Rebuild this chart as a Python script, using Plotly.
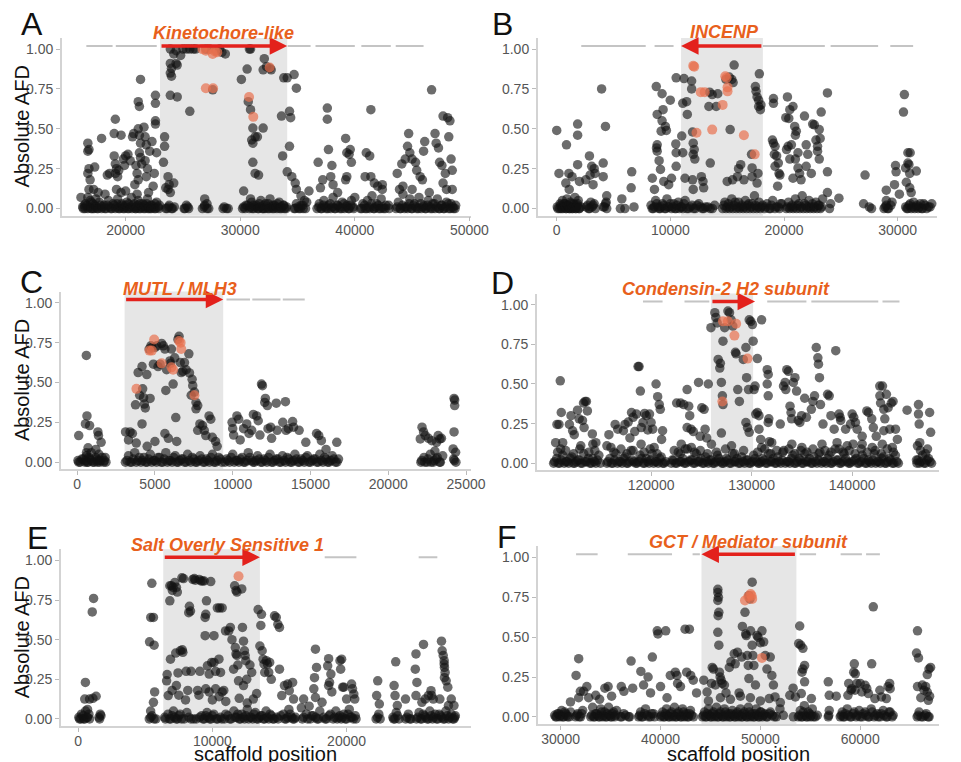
import plotly.graph_objects as go

# ---------------- data (scaffold position, absolute AFD) ----------------
A_black = [
 (16100,0.07),(16400,0.02),(16700,0.41),(16800,0.37),(16700,0.36),(16800,0.25),(16700,0.22),(16900,0.18),(16800,0.12),(16700,0.07),
 (17000,0.04),(17300,0.26),(17200,0.12),(17400,0.06),(17900,0.44),(18400,0.21),(18600,0.22),(19000,0.33),(19100,0.28),(19100,0.56),
 (19000,0.47),(19200,0.25),(19100,0.22),(19300,0.20),(19200,0.12),(19400,0.24),(19600,0.46),(19600,0.10),(19800,0.31),(19900,0.27),
 (20000,0.33),(20200,0.34),(20400,0.30),(20600,0.45),(20700,0.47),(20800,0.15),(20900,0.27),(21000,0.22),(21100,0.67),(21200,0.64),
 (21300,0.81),(21100,0.50),(21200,0.46),(21300,0.41),(21200,0.35),(21300,0.32),(21400,0.28),(21100,0.18),(21600,0.51),(21700,0.45),
 (21800,0.40),(21700,0.30),(21900,0.25),(21800,0.20),(22100,0.36),(22300,0.42),(22600,0.55),(22600,0.53),(22600,0.66),(22600,0.71),
 (22400,0.14),(22500,0.22),(22700,0.35),(23400,0.45),(23400,0.39),(23300,0.29),(23500,0.13),(23700,0.12),
 (23900,1.00),(24400,0.99),(24200,0.97),(23900,0.91),(24000,0.88),(23900,0.85),(24000,0.83),(24400,0.91),(24500,0.90),(23900,0.71),
 (24500,0.70),(23700,0.20),(23800,0.15),(23900,0.10),(24200,0.16),(25000,1.00),(25300,1.00),(25600,1.00),(25900,1.00),(26100,1.00),
 (24800,0.96),(25600,0.61),(27000,1.00),(27300,1.00),(27900,0.99),(28200,1.00),(28400,0.98),(28700,0.97),(27600,0.745),(26900,0.06),
 (27100,0.03),(30100,0.81),(30600,0.875),(30900,1.00),(30800,1.00),(30700,0.67),(30900,0.62),(31100,0.505),(31300,0.45),(31000,0.43),
 (31100,0.41),(31100,0.29),(31300,0.22),(31600,0.21),(31500,0.45),(30300,0.11),(30900,0.06),(32100,0.94),(32300,0.89),(32000,0.87),
 (32600,0.88),(32700,0.87),(32000,0.505),(33600,0.58),(33700,0.33),(33800,0.82),(34100,0.82),(34300,0.39),(34100,0.23),(34300,0.61),
 (34400,0.57),(34500,0.20),(34700,0.84),(34900,0.755),(34800,0.16),
 (34900,0.12),(35300,0.08),(35600,0.05),(36800,0.29),(37200,0.18),(37600,0.63),(37600,0.56),(37700,0.37),(38000,0.27),(38100,0.15),
 (37900,0.20),(39200,0.44),(39300,0.35),(39500,0.34),(39600,0.37),(39700,0.29),(39300,0.20),(39200,0.18),(41000,0.35),(41300,0.33),
 (41400,0.62),(41400,0.20),(40900,0.20),(41700,0.16),(42000,0.14),(42400,0.15),(43700,0.22),(44100,0.28),(44400,0.31),(44600,0.39),
 (44700,0.47),(44800,0.35),(45000,0.31),(45300,0.29),(45400,0.24),(45700,0.20),(46100,0.42),(46000,0.36),(45900,0.18),(46700,0.745),
 (47000,0.47),(47100,0.41),(47300,0.38),(47400,0.29),(47600,0.27),(47700,0.58),(48100,0.57),(48300,0.55),(48200,0.45),(48400,0.31),
 (47900,0.22),(47700,0.16),(48500,0.24),(48500,0.12),(43900,0.12),
 (17600,0.10),(18200,0.09),(20000,0.11),(21000,0.09),(22000,0.10),(36000,0.11),(37000,0.13),(38500,0.10),(40000,0.07),(42400,0.12),
 (44200,0.14),(45000,0.12),(46500,0.10),(48000,0.12),
 (16300,0.0),(16500,0.03),(16700,0.0),(16900,0.05),(17100,0.0),(17300,0.02),(17500,0.0),(17700,0.04),(17900,0.0),(18100,0.02),
 (18300,0.0),(18500,0.05),(18700,0.0),(18900,0.03),(19100,0.0),(19300,0.06),(19500,0.0),(19700,0.02),(19900,0.0),(20100,0.04),
 (20300,0.0),(20500,0.07),(20700,0.01),(20900,0.0),(21100,0.05),(21300,0.0),(21500,0.03),(21700,0.0),(21900,0.06),(22100,0.0),
 (22300,0.02),(22500,0.0),(22700,0.04),(22900,0.0),(23500,0.0),(23800,0.02),(24100,0.0),(25100,0.0),(25300,0.02),(25500,0.0),
 (26700,0.0),(26900,0.02),(27100,0.0),(28500,0.0),(28800,0.0),(30200,0.0),(30500,0.02),(30800,0.0),(31000,0.04),(31200,0.0),
 (31400,0.02),(31600,0.0),(31800,0.05),(32000,0.0),(32200,0.03),(32400,0.0),(32600,0.06),(32800,0.0),(33000,0.02),(33200,0.0),
 (33400,0.04),(33600,0.0),(33800,0.02),(34000,0.0),(34700,0.0),(34900,0.03),(35100,0.0),(35300,0.02),(35500,0.0),(35800,0.04),
 (36700,0.0),(36900,0.03),(37100,0.0),(37300,0.05),(37500,0.0),(37700,0.02),(37900,0.0),(38100,0.07),(38300,0.0),(38500,0.02),
 (38700,0.0),(38900,0.04),(39100,0.0),(39300,0.02),(39500,0.0),(39700,0.05),(39900,0.0),(40500,0.0),(40700,0.03),(40900,0.0),
 (41100,0.05),(41300,0.0),(41500,0.08),(41700,0.0),(41900,0.03),(42100,0.0),(42300,0.06),(42500,0.0),(42700,0.02),(43000,0.0),
 (43600,0.0),(43800,0.04),(44000,0.0),(44200,0.09),(44400,0.01),(44600,0.0),(44800,0.06),(45000,0.0),(45200,0.03),(45400,0.0),
 (45600,0.07),(45800,0.0),(46000,0.02),(46200,0.0),(46400,0.05),(46600,0.0),(46800,0.03),(47000,0.0),(47200,0.06),(47400,0.0),
 (47600,0.02),(47800,0.0),(48000,0.04),(48200,0.0),(48400,0.03),(48600,0.0),(48800,0.02)]
A_base = [
 (16250,0.01),(16450,0.0),(16600,0.02),(16820,0.01),(16980,0.0),(17150,0.03),(17240,0.0),(17420,0.01),(17600,0.0),(17810,0.02),
 (17960,0.01),(18180,0.0),(18410,0.02),(18600,0.01),(18800,0.0),(18990,0.02),(19180,0.01),(19250,0.03),(19390,0.0),(19580,0.01),
 (19650,0.03),(19780,0.0),(19950,0.01),(20050,0.02),(20180,0.0),(20260,0.03),(20440,0.01),(20560,0.0),(20620,0.02),(20780,0.03),
 (20840,0.0),(20950,0.01),(21050,0.02),(21160,0.0),(21240,0.03),(21420,0.01),(21560,0.0),(21650,0.02),(21780,0.01),(21840,0.03),
 (21960,0.0),(22050,0.01),(22180,0.02),(22240,0.0),(22440,0.01),(22560,0.03),(22620,0.0),(22850,0.01),(22960,0.02),(23620,0.0),
 (23750,0.01),(24000,0.0),(24250,0.01),(25180,0.0),(25420,0.01),(26850,0.01),(27250,0.0),(28600,0.01),(28950,0.0),(30300,0.01),
 (30420,0.0),(30650,0.02),(30880,0.01),(31050,0.0),(31160,0.02),(31340,0.01),(31550,0.0),(31660,0.03),(31750,0.01),(31950,0.0),
 (32050,0.02),(32150,0.0),(32350,0.01),(32450,0.03),(32550,0.0),(32750,0.01),(32850,0.02),(32950,0.0),(33150,0.01),(33250,0.03),
 (33450,0.0),(33550,0.01),(33750,0.02),(33850,0.0),(34050,0.01),(34800,0.0),(35050,0.01),(35250,0.0),(35450,0.02),(35700,0.0),
 (36850,0.01),(37050,0.0),(37250,0.02),(37450,0.01),(37650,0.0),(37850,0.03),(38050,0.01),(38250,0.0),(38450,0.02),(38650,0.01),
 (38850,0.0),(39050,0.03),(39250,0.01),(39450,0.0),(39650,0.02),(39850,0.01),(40620,0.0),(40850,0.02),(41050,0.0),(41250,0.01),
 (41450,0.03),(41650,0.0),(41850,0.01),(42050,0.02),(42250,0.0),(42450,0.01),(42650,0.0),(42950,0.02),(43700,0.01),(43950,0.0),
 (44150,0.02),(44350,0.0),(44550,0.01),(44750,0.03),(44950,0.0),(45150,0.02),(45350,0.01),(45550,0.0),(45750,0.03),(45950,0.01),
 (46150,0.0),(46350,0.02),(46550,0.01),(46750,0.0),(46950,0.03),(47150,0.01),(47350,0.0),(47550,0.02),(47750,0.0),(47950,0.01),
 (48150,0.03),(48350,0.0),(48550,0.01),(48750,0.0)]
A_orange = [(26700,1.00),(27000,0.99),(27300,1.00),(27800,0.985),(28000,0.98),(27600,0.97),(27000,0.755),(27630,0.755),
 (30770,0.70),(31140,0.575),(32570,0.885)]
A_genes = [(16570,18860),(19140,22714),(34140,36140),(36570,40000),(40570,43140),(43570,46000)]
A_target = (23000, 34100)
A_label = "Kinetochore-like"

B_black = [
 (0,0.49),(200,0.22),(860,0.40),(1070,0.22),(1350,0.20),(1840,0.53),(1840,0.46),(1840,0.275),(2000,0.17),(2560,0.18),
 (2880,0.33),(2940,0.21),(3080,0.265),(3200,0.15),(3300,0.25),(3370,0.22),(3950,0.75),(4090,0.285),(4090,0.20),(4290,0.515),
 (4400,0.08),(5730,0.06),(6600,0.23),(6550,0.13),(800,0.16),(1100,0.12),
 (8760,0.765),(8840,0.59),(8840,0.40),(8780,0.38),(8840,0.36),(9010,0.30),(9270,0.72),(9360,0.62),(9190,0.485),(9270,0.55),
 (9560,0.515),(9650,0.49),(9990,0.68),(9130,0.245),(9420,0.17),(9850,0.15),(10510,0.82),(10480,0.405),(10510,0.35),(10510,0.265),
 (10100,0.19),(8410,0.19),(8600,0.12),
 (11200,0.815),(11090,0.66),(11430,0.67),(11000,0.455),(11090,0.35),(11490,0.59),(11290,0.19),(11870,0.80),(11870,0.75),(11950,0.48),
 (12010,0.41),(12100,0.37),(12010,0.34),(12150,0.31),(11950,0.18),(12010,0.12),(12730,0.20),(12870,0.17),(12930,0.13),(13450,0.73),
 (13680,0.715),(13510,0.285),(13390,0.64),(14030,0.64),(14170,0.72),(14890,0.81),(15180,0.825),(15260,0.495),(15410,0.81),(15520,0.79),
 (15610,0.90),(15000,0.17),(15470,0.18),(15900,0.20),(16000,0.25),(16190,0.275),(16470,0.18),(17140,0.34),(17190,0.255),(17190,0.20),
 (17480,0.765),(17540,0.735),(17630,0.70),(17770,0.64),(17920,0.62),(17770,0.68),(17830,0.845),(17710,0.22),(17630,0.16),(17970,0.65),
 (19070,0.69),(19070,0.66),(18980,0.43),(19070,0.41),(19210,0.39),(19150,0.34),(19350,0.33),(19500,0.285),(19210,0.265),(19560,0.22),
 (19640,0.21),(19440,0.14),(20160,0.57),(20300,0.70),(20420,0.565),(20510,0.62),(20790,0.64),(20360,0.39),(20650,0.40),(20220,0.37),
 (20510,0.31),(20940,0.515),(21080,0.485),(21000,0.46),(21230,0.35),(21000,0.31),(21230,0.255),(21370,0.22),(20790,0.19),(21500,0.18),
 (21800,0.58),(21950,0.40),(22090,0.34),(21950,0.265),(22520,0.53),(22670,0.525),(22810,0.43),(22950,0.39),(23100,0.495),(23180,0.44),
 (22950,0.36),(23100,0.31),(22400,0.22),(23270,0.605),(23820,0.725),(23820,0.23),(23820,0.10),(24830,0.065),(27130,0.21),(27000,0.03),
 (29000,0.115),(29000,0.05),(29810,0.27),(29860,0.23),(29720,0.15),(30150,0.09),(30590,0.715),(30510,0.605),(30900,0.35),(31100,0.35),
 (30900,0.285),(30990,0.275),(30700,0.255),(31060,0.22),(30760,0.165),(31060,0.13),(31640,0.235),(31190,0.10),
 (100,0.0),(300,0.03),(400,0.0),(500,0.05),(600,0.01),(700,0.03),(800,0.0),(900,0.06),(1000,0.02),(1100,0.0),
 (1200,0.04),(1300,0.01),(1400,0.0),(1500,0.03),(1600,0.07),(1700,0.0),(1800,0.02),(1900,0.05),(2000,0.0),(2600,0.01),
 (2800,0.0),(3000,0.04),(3200,0.02),(3400,0.0),(4100,0.01),(4300,0.03),(4400,0.0),(5600,0.0),(6000,0.0),(6800,0.01),
 (8300,0.02),(8500,0.0),(8700,0.05),(8900,0.01),(9100,0.0),(9300,0.03),(9500,0.0),(9700,0.06),(9900,0.01),(10100,0.0),
 (10300,0.03),(10500,0.0),(10700,0.04),(10900,0.01),(11100,0.0),(11300,0.05),(11600,0.0),(11900,0.02),(12200,0.0),(12500,0.03),
 (12800,0.0),(13100,0.01),(13500,0.0),(13900,0.02),(14600,0.0),(14800,0.04),(15000,0.01),(15200,0.0),(15400,0.06),(15600,0.02),
 (15800,0.0),(16000,0.04),(16200,0.01),(16400,0.0),(16600,0.05),(16800,0.02),(17000,0.0),(17200,0.03),(17400,0.08),(17600,0.0),
 (17800,0.04),(18000,0.01),(18300,0.0),(18500,0.03),(18800,0.0),(19000,0.05),(19300,0.01),(19600,0.0),(19800,0.03),(20200,0.0),
 (20400,0.04),(20600,0.01),(20800,0.0),(21000,0.06),(21200,0.02),(21400,0.0),(21600,0.08),(21800,0.03),(22000,0.0),(22200,0.05),
 (22400,0.01),(22600,0.0),(22800,0.04),(23000,0.02),(23200,0.0),(23400,0.06),(24000,0.0),(24100,0.03),(27500,0.01),(27700,0.0),
 (28800,0.0),(29000,0.02),(29200,0.0),(29500,0.04),(30800,0.0),(31000,0.02),(31200,0.0),(31400,0.04),(31600,0.01),(31800,0.0),
 (32000,0.03),(32200,0.0),(32400,0.02),(32700,0.01),(33000,0.03)]
B_base = [
 (50,0.01),(250,0.0),(350,0.02),(450,0.01),(550,0.0),(650,0.03),(750,0.01),(850,0.0),(950,0.02),(1050,0.01),
 (1150,0.0),(1250,0.03),(1350,0.0),(1450,0.01),(1550,0.02),(1650,0.0),(1750,0.01),(1850,0.03),(1950,0.0),(2100,0.01),
 (2700,0.02),(2900,0.0),(3100,0.01),(3300,0.03),(4200,0.01),(4350,0.04),(8400,0.0),(8600,0.01),(8800,0.03),(9000,0.0),
 (9200,0.01),(9400,0.02),(9600,0.0),(9800,0.01),(10000,0.03),(10200,0.01),(10400,0.0),(10600,0.02),(10800,0.0),(11000,0.01),
 (11200,0.03),(11450,0.0),(11750,0.01),(12050,0.0),(12350,0.02),(12650,0.01),(12950,0.0),(13300,0.01),(13700,0.0),(14700,0.02),
 (14900,0.0),(15100,0.03),(15300,0.01),(15500,0.0),(15700,0.04),(15900,0.01),(16100,0.0),(16300,0.02),(16500,0.01),(16700,0.0),
 (16900,0.03),(17100,0.01),(17300,0.0),(17500,0.02),(17700,0.01),(17900,0.0),(18100,0.02),(18400,0.01),(18700,0.0),(18900,0.02),
 (19200,0.0),(19500,0.01),(19700,0.03),(20300,0.01),(20500,0.0),(20700,0.02),(20900,0.01),(21100,0.0),(21300,0.03),(21500,0.01),
 (21700,0.0),(21900,0.02),(22100,0.01),(22300,0.0),(22500,0.03),(22700,0.01),(22900,0.0),(23100,0.02),(23300,0.01),(28900,0.01),
 (29100,0.0),(29400,0.02),(30700,0.01),(30900,0.0),(31100,0.03),(31300,0.01),(31500,0.0),(31700,0.02),(31900,0.01),(32100,0.0),
 (32300,0.03),(32550,0.0),(32850,0.01)]
B_orange = [(12010,0.895),(12100,0.89),(12300,0.475),(12670,0.73),(13020,0.73),(13680,0.495),(14600,0.65),(14830,0.83),
 (14950,0.82),(15030,0.76),(15030,0.735),(16470,0.46),(17420,0.34)]
B_genes = [(2160,7830),(8610,10280),(18140,23590),(24100,28280),(29350,31360)]
B_target = (18140, 10940)
B_label = "INCENP"

C_black = [
 (100,0.167),(590,0.67),(630,0.29),(530,0.24),(800,0.23),(1330,0.19),(1370,0.167),(1540,0.125),(1200,0.08),(700,0.09),(600,0.06),
 (3110,0.19),(3400,0.19),(3550,0.18),(3750,0.36),(3920,0.5625),(4020,0.42),(4170,0.60),(4210,0.46),(4270,0.405),(4320,0.365),
 (4380,0.34),(4480,0.55),(4170,0.24),(4690,0.40),(4630,0.71),(4740,0.73),(4800,0.72),(4900,0.615),(5010,0.72),(5120,0.73),
 (5330,0.615),(5430,0.745),(5540,0.73),(5640,0.71),(5750,0.58),(5200,0.60),(5700,0.45),(5640,0.18),(5860,0.15),(6060,0.71),
 (5960,0.635),(6000,0.62),(6170,0.49),(6270,0.655),(6340,0.28),(6400,0.13),(6550,0.79),(6480,0.77),(6630,0.625),(6690,0.5625),
 (6800,0.57),(6900,0.625),(7010,0.58),(7180,0.68),(7220,0.56),(7330,0.42),(7390,0.52),(7430,0.48),(7540,0.44),(7640,0.375),
 (7750,0.355),(7640,0.335),(7750,0.20),(7890,0.24),(8060,0.23),(8170,0.20),(8270,0.167),(8480,0.29),(8590,0.27),(8690,0.156),
 (8900,0.13),(9000,0.10),(3300,0.14),(3800,0.12),(4500,0.10),(5000,0.13),
 (9960,0.25),(10000,0.21),(10270,0.29),(10380,0.27),(10060,0.17),(10480,0.14),(10700,0.21),(10900,0.24),(11050,0.18),(11220,0.20),
 (11330,0.30),(11540,0.29),(11640,0.26),(11750,0.17),(11850,0.49),(11910,0.48),(12060,0.375),(12100,0.40),(12230,0.355),(12270,0.21),
 (12440,0.22),(12500,0.15),(12800,0.37),(12860,0.20),(13220,0.25),(13390,0.38),(13430,0.20),(13580,0.21),(13850,0.255),(13910,0.22),
 (14270,0.20),(14700,0.125),(15390,0.18),(15530,0.167),(15700,0.135),(16690,0.125),(16000,0.08),
 (22170,0.22),(22270,0.19),(22380,0.167),(22060,0.146),(22590,0.15),(22800,0.135),(23110,0.125),(23210,0.167),(23320,0.146),(23420,0.15),
 (23000,0.07),(24230,0.40),(24270,0.39),(24270,0.355),(24230,0.19),(24170,0.083),(24330,0.0625),(24200,0.02),
 (100,0.0),(300,0.02),(500,0.0),(600,0.04),(700,0.0),(800,0.02),(900,0.06),(1000,0.0),(1200,0.03),(1300,0.0),
 (1400,0.05),(1500,0.01),(1700,0.0),(1800,0.03),(3100,0.0),(3300,0.04),(3500,0.0),(3700,0.06),(3900,0.01),(4100,0.0),
 (4300,0.03),(4500,0.0),(4700,0.05),(4900,0.01),(5100,0.0),(5300,0.03),(5500,0.0),(5700,0.06),(5900,0.01),(6100,0.0),
 (6300,0.04),(6500,0.0),(6700,0.02),(6900,0.0),(7100,0.05),(7300,0.0),(7500,0.02),(7700,0.0),(7900,0.04),(8100,0.0),
 (8300,0.02),(8500,0.0),(8700,0.05),(8900,0.0),(9100,0.03),(9300,0.0),(9600,0.02),(9800,0.0),(10000,0.05),(10200,0.01),
 (10400,0.0),(10600,0.03),(10800,0.0),(11000,0.06),(11200,0.01),(11400,0.0),(11600,0.04),(11800,0.0),(12000,0.02),(12200,0.0),
 (12400,0.05),(12600,0.0),(12800,0.02),(13000,0.0),(13200,0.04),(13400,0.0),(13600,0.02),(13800,0.0),(14000,0.05),(14200,0.0),
 (14400,0.02),(14600,0.0),(14800,0.04),(15000,0.0),(15200,0.02),(15400,0.0),(15600,0.05),(15800,0.0),(16000,0.02),(16200,0.0),
 (16400,0.04),(16600,0.0),(16800,0.02),(22100,0.0),(22300,0.03),(22500,0.0),(22700,0.05),(22900,0.0),(23100,0.02),(23300,0.0),
 (23500,0.04)]
C_base = [
 (50,0.01),(200,0.0),(400,0.02),(550,0.01),(650,0.0),(750,0.03),(950,0.01),(1100,0.0),(1250,0.02),(1350,0.01),
 (1450,0.0),(1600,0.03),(1750,0.01),(1850,0.0),(3200,0.01),(3400,0.0),(3600,0.02),(3800,0.0),(4000,0.03),(4200,0.01),
 (4400,0.0),(4600,0.02),(4800,0.0),(5000,0.01),(5200,0.03),(5400,0.0),(5600,0.02),(5800,0.0),(6000,0.01),(6200,0.03),
 (6400,0.0),(6600,0.01),(6800,0.02),(7000,0.0),(7200,0.01),(7400,0.03),(7600,0.0),(7800,0.01),(8000,0.02),(8200,0.0),
 (8400,0.01),(8600,0.03),(8800,0.0),(9000,0.01),(9200,0.02),(9500,0.0),(9700,0.01),(9900,0.03),(10100,0.0),(10300,0.01),
 (10500,0.02),(10700,0.0),(10900,0.01),(11100,0.03),(11300,0.0),(11500,0.01),(11700,0.02),(11900,0.0),(12100,0.01),(12300,0.03),
 (12500,0.0),(12700,0.01),(12900,0.02),(13100,0.0),(13300,0.01),(13500,0.03),(13700,0.0),(13900,0.01),(14100,0.02),(14300,0.0),
 (14500,0.01),(14700,0.03),(14900,0.0),(15100,0.01),(15300,0.02),(15500,0.0),(15700,0.01),(15900,0.03),(16100,0.0),(16300,0.01),
 (16500,0.02),(16700,0.0),(22150,0.01),(22350,0.0),(22550,0.02),(22750,0.0),(22950,0.01),(23150,0.03),(23350,0.0),(24250,0.01),
 (24350,0.0)]
C_orange = [(3810,0.46),(4650,0.70),(4800,0.70),(4950,0.77),(5430,0.62),(6060,0.595),(6170,0.58),(6550,0.76),(6650,0.75),
 (6690,0.71),(7540,0.42)]
C_genes = [(9600,11110),(11260,13070),(13220,14630)]
C_target = (3050, 9390)
C_label = "MUTL / MLH3"

D_black = [
 (110500,0.13),(110630,0.245),(110960,0.52),(111060,0.32),(110830,0.245),(111200,0.13),(111870,0.245),(112030,0.30),(112190,0.205),(112350,0.18),
 (112680,0.335),(112840,0.28),(113270,0.38),(113430,0.39),(113560,0.39),(113170,0.27),(113330,0.225),(113660,0.33),(114150,0.185),(114200,0.12),
 (114500,0.13),(115600,0.11),(115800,0.18),(116420,0.245),(116680,0.215),(117240,0.205),(117400,0.245),(117720,0.26),(117890,0.16),(118050,0.32),
 (118210,0.29),(118370,0.20),(118700,0.61),(118800,0.61),(118930,0.455),(118540,0.31),(119020,0.225),(119190,0.257),(119350,0.314),(119510,0.30),
 (119670,0.21),(119840,0.31),(120000,0.257),(120160,0.215),(120490,0.50),(120650,0.42),(120810,0.37),(120910,0.34),(121040,0.15),(121140,0.205),
 (122540,0.38),(122930,0.38),(123250,0.37),(123580,0.465),(123740,0.36),(123580,0.225),(123840,0.30),(123970,0.215),(124200,0.20),(124720,0.51),
 (125040,0.35),(125270,0.34),(125370,0.215),(125690,0.50),(125530,0.16),(124880,0.17),
 (125950,0.855),(126340,0.95),(126440,0.92),(126570,0.885),(126670,0.655),(126830,0.60),(126890,0.63),(126990,0.51),(127090,0.425),(127150,0.37),
 (126990,0.19),(127150,0.77),(127320,0.855),(127640,0.96),(127800,0.95),(127960,0.905),(128130,0.865),(128390,0.70),(128450,0.69),(128620,0.465),
 (128780,0.39),(129170,0.655),(129430,0.73),(129500,0.54),(129690,0.465),(129430,0.257),(129590,0.225),(129760,0.195),(129760,0.905),(129920,0.895),
 (130080,0.875),(130150,0.77),(130240,0.465),(130340,0.487),(130410,0.31),(130570,0.32),(130730,0.30),(130990,0.905),(130570,0.66),(130900,0.15),
 (130730,0.215),
 (131550,0.59),(131650,0.56),(131550,0.50),(131650,0.425),(131710,0.28),(131650,0.257),(131770,0.136),(132850,0.247),(133170,0.487),(133330,0.51),
 (133500,0.59),(133660,0.58),(133400,0.465),(133820,0.36),(133920,0.32),(133980,0.28),(134150,0.51),(134310,0.54),(134470,0.455),(134640,0.27),
 (134800,0.257),(134970,0.30),(135280,0.41),(135450,0.29),(135940,0.34),(136100,0.39),(136260,0.425),(136430,0.73),(136590,0.665),(136650,0.625),
 (136750,0.54),(136850,0.37),(137100,0.247),(137560,0.435),(137720,0.425),(137890,0.30),(138210,0.215),(138370,0.71),(138700,0.31),(138800,0.29),
 (138860,0.27),(139350,0.215),(139840,0.247),(140000,0.31),(140160,0.29),(140330,0.257),(140500,0.215),(141000,0.17),(141460,0.33),(141620,0.32),
 (141950,0.28),(142110,0.225),(142400,0.17),(142750,0.487),(142760,0.425),(142830,0.38),(143020,0.487),(143150,0.34),(143410,0.435),(143250,0.28),
 (143150,0.205),(143580,0.35),(143750,0.215),(143900,0.38),(144070,0.39),(144320,0.215),(144500,0.15),(145470,0.335),(146600,0.37),(146600,0.31),
 (146670,0.247),(146730,0.13),(147710,0.32),(147810,0.195),
 (111000,0.09),(113000,0.11),(116000,0.10),(119000,0.12),(120300,0.10),(123000,0.12),(124000,0.10),(126000,0.12),(128000,0.11),(131000,0.10),
 (132000,0.13),(134000,0.12),(135000,0.10),(137000,0.12),(138500,0.13),(139500,0.11),(141000,0.12),(142000,0.10),(143000,0.12),(144000,0.10),
 (146500,0.11),(147500,0.09),
 (110700,0.07),(111500,0.08),(112300,0.06),(112900,0.09),(113800,0.07),(114400,0.08),(116300,0.07),(117000,0.09),(117600,0.06),(118200,0.08),
 (119300,0.07),(119900,0.09),(120600,0.06),(122300,0.08),(122900,0.06),(123400,0.09),(124300,0.07),(124900,0.08),(125600,0.06),(126500,0.07),
 (127400,0.09),(128300,0.06),(129200,0.08),(130600,0.07),(131300,0.09),(131900,0.06),(132500,0.08),(133100,0.07),(133700,0.09),(134300,0.06),
 (134900,0.08),(135500,0.07),(136100,0.09),(136700,0.06),(137300,0.08),(137900,0.07),(138700,0.09),(139100,0.07),(139700,0.08),(140300,0.06),
 (140900,0.09),(141500,0.07),(142300,0.08),(142900,0.06),(143500,0.09),(144100,0.07),(146800,0.08),(147300,0.06),
 (110300,0.0),(110600,0.03),(110900,0.0),(111200,0.05),(111500,0.01),(111800,0.0),(112100,0.04),(112400,0.0),(112700,0.02),(113000,0.0),
 (113300,0.06),(113600,0.01),(113900,0.0),(114200,0.03),(114500,0.0),(114800,0.05),(115600,0.0),(115900,0.03),(116200,0.0),(116500,0.06),
 (116800,0.01),(117100,0.0),(117400,0.04),(117700,0.0),(118000,0.08),(118300,0.01),(118600,0.0),(118900,0.05),(119200,0.0),(119500,0.03),
 (119800,0.0),(120100,0.06),(120400,0.01),(120700,0.0),(121000,0.04),(121300,0.0),(122100,0.02),(122400,0.0),(122700,0.07),(123000,0.01),
 (123300,0.0),(123600,0.09),(123900,0.02),(124200,0.0),(124500,0.06),(124800,0.01),(125100,0.0),(125400,0.04),(125700,0.0),(126000,0.02),
 (126300,0.0),(126600,0.05),(126900,0.01),(127200,0.0),(127500,0.03),(127800,0.0),(128100,0.06),(128400,0.01),(128700,0.0),(129000,0.04),
 (129300,0.0),(129600,0.02),(129900,0.0),(130200,0.05),(130500,0.01),(130800,0.0),(131100,0.03),(131400,0.0),(131700,0.06),(132000,0.01),
 (132300,0.0),(132600,0.04),(132900,0.0),(133200,0.08),(133500,0.01),(133800,0.0),(134100,0.05),(134400,0.0),(134700,0.03),(135000,0.0),
 (135300,0.06),(135600,0.01),(135900,0.0),(136200,0.04),(136500,0.0),(136800,0.07),(137100,0.01),(137400,0.0),(137700,0.05),(138000,0.0),
 (138300,0.09),(138600,0.02),(138900,0.0),(139200,0.06),(139500,0.01),(139800,0.0),(140100,0.12),(140400,0.03),(140700,0.0),(141000,0.05),
 (141300,0.0),(141600,0.02),(141900,0.0),(142200,0.06),(142500,0.01),(142800,0.0),(143100,0.04),(143400,0.0),(143700,0.03),(144000,0.0),
 (144300,0.05),(144600,0.0),(146400,0.02),(146700,0.0),(147000,0.05),(147300,0.0),(147600,0.03),(147900,0.0)]
D_base = [
 (110400,0.01),(110750,0.0),(111050,0.02),(111350,0.0),(111650,0.01),(111950,0.03),(112250,0.0),(112550,0.01),(112850,0.02),(113150,0.0),
 (113450,0.01),(113750,0.03),(114050,0.0),(114350,0.01),(114650,0.02),(114950,0.0),(115700,0.01),(116050,0.0),(116350,0.02),(116650,0.0),
 (116950,0.01),(117250,0.03),(117550,0.0),(117850,0.01),(118150,0.02),(118450,0.0),(118750,0.01),(119050,0.03),(119350,0.0),(119650,0.01),
 (119950,0.02),(120250,0.0),(120550,0.01),(120850,0.03),(121150,0.0),(121450,0.01),(122000,0.0),(122250,0.02),(122550,0.0),(122850,0.01),
 (123150,0.03),(123450,0.0),(123750,0.01),(124050,0.02),(124350,0.0),(124650,0.01),(124950,0.03),(125250,0.0),(125550,0.01),(125850,0.02),
 (126150,0.0),(126450,0.01),(126750,0.03),(127050,0.0),(127350,0.01),(127650,0.02),(127950,0.0),(128250,0.01),(128550,0.03),(128850,0.0),
 (129150,0.01),(129450,0.02),(129750,0.0),(130050,0.01),(130350,0.03),(130650,0.0),(130950,0.01),(131250,0.02),(131550,0.0),(131850,0.01),
 (132150,0.03),(132450,0.0),(132750,0.01),(133050,0.02),(133350,0.0),(133650,0.01),(133950,0.03),(134250,0.0),(134550,0.01),(134850,0.02),
 (135150,0.0),(135450,0.01),(135750,0.03),(136050,0.0),(136350,0.01),(136650,0.02),(136950,0.0),(137250,0.01),(137550,0.03),(137850,0.0),
 (138150,0.01),(138450,0.02),(138750,0.0),(139050,0.01),(139350,0.03),(139650,0.0),(139950,0.01),(140250,0.02),(140550,0.0),(140850,0.01),
 (141150,0.03),(141450,0.0),(141750,0.01),(142050,0.02),(142350,0.0),(142650,0.01),(142950,0.03),(143250,0.0),(143550,0.01),(143850,0.02),
 (144150,0.0),(144450,0.01),(146450,0.0),(146550,0.02),(146850,0.01),(147150,0.0),(147450,0.02),(147750,0.01)]
D_orange = [(127150,0.895),(127640,0.895),(128460,0.88),(128290,0.805),(129590,0.66),(127090,0.39)]
D_genes = [(119190,121140),(123320,125790),(131550,135450),(135940,142600),(143020,144710)]
D_target = (125950, 130340)
D_label = "Condensin-2 H2 subunit"

E_black = [
 (540,0.23),(490,0.125),(850,0.125),(700,0.06),(1100,0.13),(1050,0.675),(1150,0.76),(1340,0.143),(1650,0.03),
 (5320,0.486),(5410,0.64),(5490,0.855),(5610,0.64),(5660,0.465),(5610,0.105),(5400,0.05),(5700,0.17),
 (6590,0.24),(6630,0.28),(6830,0.745),(6830,0.84),(6950,0.84),(7070,0.83),(7020,0.81),(7200,0.86),(7320,0.83),(7390,0.80),
 (6880,0.377),(6710,0.147),(7320,0.21),(7270,0.415),(7440,0.29),(7610,0.43),(7760,0.436),(7800,0.42),(7730,0.89),(7850,0.885),
 (8050,0.30),(8170,0.18),(8290,0.71),(8370,0.68),(8410,0.30),(8240,0.67),(8540,0.88),(8660,0.885),(8730,0.875),(8900,0.18),
 (9020,0.88),(9070,0.30),(9150,0.87),(9270,0.87),(9390,0.87),(9560,0.745),(9510,0.66),(9460,0.64),(9460,0.525),(9630,0.335),
 (9760,0.17),(9510,0.19),(9760,0.283),(9950,0.356),(9880,0.866),(10120,0.356),(10240,0.30),(10120,0.525),(10240,0.19),(10370,0.70),
 (10540,0.70),(10730,0.70),(10490,0.377),(10610,0.293),(10730,0.17),(10850,0.18),(10980,0.555),(11220,0.555),(11340,0.577),(11460,0.50),
 (11580,0.314),(11660,0.84),(11760,0.81),(11830,0.80),(11710,0.45),(11760,0.41),(11830,0.40),(11900,0.34),(11950,0.24),(12190,0.82),
 (12240,0.577),(12320,0.49),(12390,0.43),(12440,0.40),(12490,0.367),(12560,0.25),(12320,0.21),(12800,0.34),(12930,0.293),(13050,0.125),
 (13410,0.69),(13540,0.46),(13660,0.66),(13610,0.59),(13710,0.43),(13780,0.377),(13850,0.346),(13900,0.293),(14020,0.367),(14100,0.346),
 (14200,0.293),(14270,0.356),(14390,0.25),(14630,0.65),(14760,0.64),(14880,0.597),(15000,0.577),(15000,0.314),(15170,0.147),(15370,0.21),
 (15610,0.22),(15730,0.178),(15980,0.23),(16050,0.125),
 (7000,0.18),(7500,0.15),(8000,0.12),(9000,0.15),(10000,0.12),(10500,0.14),(11000,0.11),(12000,0.13),(12600,0.10),(13300,0.16),
 (16630,0.07),(16800,0.125),(17210,0.08),(17680,0.44),(17760,0.325),(17610,0.26),(17560,0.19),(17680,0.135),(18170,0.105),(18660,0.38),
 (18590,0.335),(18730,0.23),(18660,0.21),(18830,0.283),(18900,0.17),(19510,0.367),(19630,0.377),(19560,0.314),(19710,0.20),(19800,0.20),
 (20000,0.125),(20370,0.22),(20440,0.19),(20540,0.157),(20610,0.125),(22320,0.24),(22240,0.147),(22440,0.094),(23660,0.36),(23540,0.21),
 (23610,0.147),(23780,0.084),(24390,0.125),(25170,0.41),(25120,0.314),(25240,0.23),(25170,0.147),(25730,0.47),(25610,0.105),(25850,0.125),
 (26100,0.147),(26290,0.178),(26340,0.147),(26460,0.125),(26950,0.125),(27070,0.49),(27120,0.43),(27200,0.40),(27270,0.367),(27270,0.346),
 (27290,0.325),(27340,0.293),(27290,0.26),(27420,0.24),(27540,0.20),(27590,0.084),(27800,0.125),(28000,0.084),
 (100,0.0),(250,0.03),(400,0.0),(550,0.05),(700,0.01),(850,0.0),(1600,0.0),(1700,0.02),(5300,0.0),(5500,0.02),
 (5800,0.0),(6500,0.0),(6700,0.03),(6900,0.0),(7100,0.05),(7300,0.0),(7500,0.02),(7700,0.0),(8100,0.04),(8400,0.0),
 (8800,0.0),(9200,0.02),(9400,0.0),(9600,0.04),(9800,0.0),(10000,0.02),(10300,0.0),(10700,0.0),(11000,0.03),(11300,0.0),
 (11600,0.05),(11800,0.01),(12000,0.0),(12200,0.03),(12400,0.0),(12600,0.06),(12800,0.01),(13000,0.0),(13200,0.04),(13400,0.0),
 (13600,0.02),(13800,0.0),(14000,0.05),(14200,0.0),(14400,0.02),(14600,0.0),(14900,0.0),(15300,0.03),(15500,0.0),(15700,0.06),
 (15900,0.01),(16100,0.0),(16700,0.0),(17000,0.03),(17300,0.0),(17500,0.02),(17800,0.0),(18000,0.05),(18400,0.0),(18700,0.02),
 (19000,0.0),(19200,0.05),(19400,0.01),(19600,0.0),(19800,0.03),(20000,0.0),(20200,0.06),(20400,0.01),(20700,0.0),(22200,0.0),
 (22400,0.03),(23500,0.0),(23700,0.04),(23900,0.0),(24400,0.0),(24600,0.03),(24800,0.0),(25200,0.0),(25400,0.04),(25600,0.0),
 (25800,0.02),(26000,0.0),(26200,0.05),(26400,0.0),(26600,0.03),(26800,0.0),(27000,0.02),(27200,0.0),(27400,0.05),(27600,0.0),
 (27800,0.03),(28000,0.0),(28100,0.02)]
E_base = [
 (50,0.01),(200,0.0),(350,0.02),(500,0.0),(650,0.01),(800,0.03),(1550,0.01),(5400,0.01),(5650,0.0),(6450,0.01),
 (6800,0.0),(7000,0.02),(7200,0.01),(7400,0.0),(7600,0.03),(7900,0.0),(8250,0.01),(8600,0.0),(9050,0.01),(9300,0.0),
 (9500,0.02),(9700,0.01),(9900,0.0),(10100,0.03),(10400,0.0),(10600,0.01),(10900,0.0),(11150,0.02),(11400,0.0),(11700,0.01),
 (11900,0.03),(12100,0.0),(12300,0.01),(12500,0.02),(12700,0.0),(12900,0.01),(13100,0.03),(13300,0.0),(13500,0.01),(13700,0.02),
 (13900,0.0),(14100,0.01),(14300,0.03),(14500,0.0),(14800,0.01),(15100,0.02),(15400,0.0),(15600,0.01),(15800,0.03),(16000,0.0),
 (16200,0.01),(16800,0.01),(17100,0.0),(17400,0.02),(17700,0.01),(17900,0.0),(18300,0.01),(18500,0.0),(18800,0.03),(19100,0.01),
 (19300,0.0),(19500,0.02),(19700,0.01),(19900,0.0),(20100,0.03),(20300,0.01),(20500,0.0),(20650,0.02),(22300,0.01),(22500,0.0),
 (23450,0.01),(23600,0.0),(23800,0.02),(24500,0.01),(24700,0.0),(25300,0.01),(25500,0.0),(25700,0.03),(25900,0.01),(26100,0.0),
 (26300,0.02),(26500,0.01),(26700,0.0),(26900,0.03),(27100,0.01),(27300,0.0),(27500,0.02),(27700,0.01),(27900,0.0),(28050,0.01)]
E_orange = [(11950,0.90)]
E_genes = [(18370,20730),(25370,26760)]
E_target = (6340, 13540)
E_label = "Salt Overly Sensitive 1"

F_black = [
 (30980,0.094),(31800,0.12),(31540,0.26),(31800,0.365),(31970,0.16),(32300,0.16),(32620,0.19),(32800,0.12),(33510,0.135),(33900,0.11),
 (34430,0.18),(34750,0.19),(35100,0.13),(36070,0.19),(36330,0.16),(37050,0.35),(37210,0.18),(38030,0.285),(38300,0.20),(38750,0.25),
 (39180,0.375),(39000,0.15),(39670,0.54),(39740,0.52),(40000,0.19),(40520,0.54),(40650,0.12),(40980,0.26),(41480,0.28),(41640,0.26),
 (41710,0.21),(42000,0.19),(42460,0.55),(42890,0.55),(42620,0.28),(43020,0.26),(43280,0.23),(43610,0.15),
 (44330,0.23),(44660,0.156),(45100,0.21),(45180,0.31),(45300,0.30),(45500,0.20),(45740,0.80),(45740,0.78),(45800,0.75),(45740,0.73),
 (45840,0.656),(45770,0.635),(45740,0.53),(45840,0.45),(45900,0.28),(45970,0.25),(46070,0.23),(46170,0.21),(46400,0.20),(46560,0.15),
 (46890,0.31),(47050,0.345),(47380,0.396),(47480,0.333),(47710,0.406),(47870,0.15),(48130,0.375),(48200,0.567),(48460,0.656),(48530,0.52),
 (48590,0.51),(48690,0.385),(48790,0.323),(48850,0.24),(49180,0.845),(48850,0.76),(48950,0.74),(49020,0.54),(49180,0.45),(49250,0.385),
 (49350,0.323),(49510,0.20),(49670,0.51),(49770,0.50),(50000,0.465),(50160,0.54),(50330,0.47),(50490,0.385),(50660,0.30),(50890,0.115),
 (50990,0.375),(51150,0.26),(51310,0.20),(51470,0.125),(51960,0.05),(52950,0.135),(53280,0.18),(53510,0.125),
 (44800,0.10),(46000,0.12),(47000,0.11),(48000,0.13),(49000,0.12),(50000,0.10),(52000,0.09),
 (53940,0.57),(53840,0.46),(54040,0.45),(54260,0.43),(54430,0.323),(54260,0.30),(54430,0.22),(54170,0.28),(54100,0.146),(55110,0.115),
 (56800,0.22),(56900,0.135),(57600,0.13),(58770,0.135),(59160,0.177),(59480,0.167),(58850,0.21),(59080,0.167),(59350,0.28),(59410,0.333),
 (59510,0.27),(59670,0.21),(60000,0.21),(60160,0.156),(60490,0.198),(60660,0.177),(60820,0.146),(61150,0.333),(61310,0.69),(61470,0.115),
 (61970,0.167),(62130,0.125),(62790,0.19),(62950,0.21),(63000,0.177),(62620,0.115),(65740,0.54),(65640,0.40),(65840,0.37),(65740,0.19),
 (66070,0.12),(66230,0.20),(66390,0.167),(66560,0.19),(66720,0.265),(66890,0.30),(67050,0.31),(66720,0.156),(66820,0.104),(66950,0.13),
 (29500,0.0),(29700,0.02),(29900,0.0),(30100,0.04),(30300,0.0),(30500,0.02),(30700,0.0),(31000,0.03),(31500,0.0),(31700,0.02),
 (32000,0.0),(32200,0.04),(33000,0.0),(33200,0.06),(33400,0.0),(33600,0.02),(33800,0.0),(34000,0.05),(34200,0.0),(34400,0.03),
 (34600,0.0),(34800,0.06),(35000,0.0),(35200,0.02),(35400,0.0),(35600,0.04),(36000,0.0),(36300,0.02),(36800,0.0),(37800,0.0),
 (38000,0.03),(38200,0.0),(38500,0.05),(38800,0.0),(39100,0.02),(39400,0.0),(40000,0.0),(40200,0.03),(40400,0.0),(40600,0.05),
 (40800,0.0),(41000,0.02),(41200,0.0),(41400,0.06),(41600,0.0),(41800,0.03),(42000,0.0),(42200,0.05),(42400,0.0),(42600,0.02),
 (42800,0.0),(43000,0.04),(43300,0.0),(44200,0.0),(44400,0.03),(44600,0.0),(44800,0.05),(45000,0.0),(45200,0.02),(45400,0.0),
 (45600,0.06),(45800,0.0),(46000,0.03),(46200,0.0),(46400,0.05),(46600,0.0),(46800,0.02),(47000,0.0),(47200,0.04),(47400,0.0),
 (47600,0.02),(47800,0.0),(48000,0.05),(48200,0.0),(48400,0.03),(48600,0.0),(48800,0.06),(49000,0.0),(49200,0.02),(49400,0.0),
 (49600,0.05),(49800,0.0),(50000,0.03),(50200,0.0),(50400,0.02),(50700,0.0),(51000,0.03),(51400,0.0),(53800,0.0),(54000,0.04),
 (54200,0.0),(54400,0.07),(54600,0.0),(54800,0.03),(55000,0.0),(55200,0.05),(55500,0.0),(56800,0.0),(56900,0.04),(58000,0.0),
 (58200,0.03),(58400,0.0),(58700,0.05),(59000,0.0),(59300,0.02),(59600,0.0),(59900,0.04),(60200,0.0),(60500,0.03),(60800,0.0),
 (61100,0.05),(61400,0.0),(61700,0.02),(62000,0.0),(62300,0.04),(62600,0.0),(62900,0.03),(63200,0.0),(65700,0.0),(65900,0.03),
 (66300,0.0),(66600,0.02),(66900,0.0)]
F_base = [
 (29400,0.01),(29600,0.0),(29800,0.02),(30000,0.01),(30200,0.0),(30400,0.03),(30600,0.01),(30850,0.0),(31600,0.01),(31850,0.0),
 (32100,0.02),(33100,0.01),(33300,0.0),(33500,0.02),(33700,0.01),(33900,0.0),(34100,0.03),(34300,0.01),(34500,0.0),(34700,0.02),
 (34900,0.01),(35100,0.0),(35300,0.03),(35500,0.01),(36100,0.0),(36500,0.01),(36900,0.0),(37900,0.01),(38100,0.0),(38400,0.02),
 (38700,0.01),(39000,0.0),(39300,0.02),(40100,0.01),(40300,0.0),(40500,0.02),(40700,0.01),(40900,0.0),(41100,0.03),(41300,0.01),
 (41500,0.0),(41700,0.02),(41900,0.01),(42100,0.0),(42300,0.03),(42500,0.01),(42700,0.0),(42900,0.02),(43100,0.01),(44300,0.01),
 (44500,0.0),(44700,0.02),(44900,0.01),(45100,0.0),(45300,0.03),(45500,0.01),(45700,0.0),(45900,0.02),(46100,0.01),(46300,0.0),
 (46500,0.03),(46700,0.01),(46900,0.0),(47100,0.02),(47300,0.01),(47500,0.0),(47700,0.03),(47900,0.01),(48100,0.0),(48300,0.02),
 (48500,0.01),(48700,0.0),(48900,0.03),(49100,0.01),(49300,0.0),(49500,0.02),(49700,0.01),(49900,0.0),(50100,0.03),(50300,0.01),
 (50600,0.0),(50900,0.02),(51200,0.01),(51600,0.0),(52300,0.01),(53300,0.0),(53900,0.01),(54100,0.0),(54300,0.03),(54500,0.01),
 (54700,0.0),(54900,0.02),(55100,0.01),(55300,0.0),(55700,0.01),(56850,0.01),(58100,0.01),(58300,0.0),(58500,0.02),(58800,0.01),
 (59100,0.0),(59400,0.03),(59700,0.01),(60000,0.0),(60300,0.02),(60600,0.01),(60900,0.0),(61200,0.03),(61500,0.01),(61800,0.0),
 (62100,0.02),(62400,0.01),(62700,0.0),(63000,0.03),(63300,0.01),(65800,0.01),(66100,0.0),(66500,0.01),(66800,0.0)]
F_orange = [(48460,0.73),(48790,0.755),(49020,0.77),(49180,0.74),(49120,0.76),(50160,0.37)]
F_genes = [(31540,33700),(36720,41150),(43210,43940),(53940,55580),(58040,60170),(60590,61970)]
F_target = (53610, 44100)
F_label = "GCT / Mediator subunit"

y_ticks = [0, 0.25, 0.5, 0.75, 1.0]
y_ticklabels = ["0.00", "0.25", "0.50", "0.75", "1.00"]
A_xticks = [20000, 30000, 40000, 50000]
B_xticks = [0, 10000, 20000, 30000]
C_xticks = [0, 5000, 10000, 15000, 20000, 25000]
D_xticks = [120000, 130000, 140000]
E_xticks = [0, 10000, 20000]
F_xticks = [30000, 40000, 50000, 60000]

# ---------------- layout geometry (pixels) ----------------
W, H = 961, 762
FONT = "Liberation Sans, Arial, Helvetica, sans-serif"
panels = [
    dict(letter="A", black=A_black + A_base, orange=A_orange, genes=A_genes, target=A_target, label=A_label, xticks=A_xticks,
         xr=[14430, 50140], px=(63, 480), py=(38, 216), lab_y=33, lab_x=28510, let=(33, 24)),
    dict(letter="B", black=B_black + B_base, orange=B_orange, genes=B_genes, target=B_target, label=B_label, xticks=B_xticks,
         xr=[-1670, 33470], px=(548, 955), py=(38, 216), lab_y=32, lab_x=14770, let=(512, 24)),
    dict(letter="C", black=C_black + C_base, orange=C_orange, genes=C_genes, target=C_target, label=C_label, xticks=C_xticks,
         xr=[-1050, 25320], px=(62, 480), py=(292, 470), lab_y=289, lab_x=6610, let=(32, 282)),
    dict(letter="D", black=D_black + D_base, orange=D_orange, genes=D_genes, target=D_target, label=D_label, xticks=D_xticks,
         xr=[108620, 148650], px=(547, 957), py=(294, 471), lab_y=289, lab_x=127480, let=(512, 283), rect_hi=130150),
    dict(letter="E", black=E_black + E_base, orange=E_orange, genes=E_genes, target=E_target, label=E_label, xticks=E_xticks,
         xr=[-1290, 29270], px=(62, 480), py=(550, 727), lab_y=546, lab_x=11100, let=(38, 539)),
    dict(letter="F", black=F_black + F_base, orange=F_orange, genes=F_genes, target=F_target, label=F_label, xticks=F_xticks,
         xr=[27700, 67900], px=(548, 957), py=(547, 725), lab_y=543, lab_x=48850, let=(517, 538)),
]
YR = [-0.045, 1.07]
GENE_Y = 1.02

fig = go.Figure()
shapes, annotations = [], []
layout = {}

for i, p in enumerate(panels, start=1):
    xa = "x" if i == 1 else f"x{i}"
    ya = "y" if i == 1 else f"y{i}"
    xk = "xaxis" if i == 1 else f"xaxis{i}"
    yk = "yaxis" if i == 1 else f"yaxis{i}"
    x0, x1 = p["px"]
    top, bot = p["py"]
    axis_common = dict(showline=True, linecolor="#D3D3D3", linewidth=1.5, ticks="outside", ticklen=4,
                       tickwidth=1, tickcolor="#BBBBBB", showgrid=False, zeroline=False,
                       tickfont=dict(family=FONT, size=14, color="#555555"))
    layout[xk] = dict(domain=[x0 / W, x1 / W], range=p["xr"], anchor=ya, tickvals=p["xticks"],
                      ticktext=[str(v) for v in p["xticks"]], ticklabelstandoff=-3, **axis_common)
    layout[yk] = dict(domain=[1 - bot / H, 1 - top / H], range=YR, anchor=xa, tickvals=y_ticks,
                      ticktext=y_ticklabels, **axis_common)

    t0, t1 = p["target"]
    lo, hi = min(t0, t1), max(t0, t1)
    hi = p.get("rect_hi", hi)
    shapes.append(dict(type="rect", xref=xa, yref=f"{ya} domain", x0=lo, x1=hi, y0=0, y1=1,
                       fillcolor="#E6E6E6", line=dict(width=0), layer="below"))
    for g0, g1 in p["genes"]:
        shapes.append(dict(type="line", xref=xa, yref=ya, x0=g0, x1=g1, y0=GENE_Y, y1=GENE_Y,
                           line=dict(color="#C4C4C4", width=2), layer="below"))

    bx = [v[0] for v in p["black"]]
    by = [v[1] for v in p["black"]]
    fig.add_trace(go.Scatter(x=bx, y=by, mode="markers", xaxis=xa, yaxis=ya, showlegend=False, hoverinfo="skip",
                             marker=dict(color="#111111", size=9.5, opacity=0.62, line=dict(width=0))))
    ox = [v[0] for v in p["orange"]]
    oy = [v[1] for v in p["orange"]]
    fig.add_trace(go.Scatter(x=ox, y=oy, mode="markers", xaxis=xa, yaxis=ya, showlegend=False, hoverinfo="skip",
                             marker=dict(color="#E8704F", size=10, opacity=0.7, line=dict(width=0))))

    annotations.append(dict(x=t1, y=GENE_Y, xref=xa, yref=ya, ax=t0, ay=GENE_Y, axref=xa, ayref=ya,
                            text="", showarrow=True, arrowhead=2, arrowsize=1.0, arrowwidth=3.5,
                            arrowcolor="#E3211C", standoff=0, startstandoff=0))
    annotations.append(dict(x=p["lab_x"], xref=xa, y=1 - p["lab_y"] / H, yref="paper", showarrow=False,
                            text=f"<b><i>{p['label']}</i></b>", xanchor="center", yanchor="middle",
                            font=dict(family=FONT, size=18, color="#E8601C")))
    lx, ly = p["let"]
    annotations.append(dict(x=lx / W, y=1 - ly / H, xref="paper", yref="paper", showarrow=False,
                            text=p["letter"], xanchor="center", yanchor="middle",
                            font=dict(family=FONT, size=32, color="#111111")))
    if p["letter"] in ("A", "C", "E"):
        annotations.append(dict(x=22 / W, y=1 - (top + bot) / 2 / H, xref="paper", yref="paper", showarrow=False,
                                text="Absolute AFD", textangle=-90, xanchor="center", yanchor="middle",
                                font=dict(family=FONT, size=20, color="#111111")))
    if p["letter"] in ("E", "F"):
        annotations.append(dict(x=(x0 + x1) / 2 / W, y=1 - 755 / H, xref="paper", yref="paper", showarrow=False,
                                text="scaffold position", xanchor="center", yanchor="middle",
                                font=dict(family=FONT, size=20, color="#111111")))

fig.update_layout(width=W, height=H, autosize=False, margin=dict(l=0, r=0, t=0, b=0),
                  paper_bgcolor="white", plot_bgcolor="white", shapes=shapes, annotations=annotations,
                  font=dict(family=FONT), **layout)
fig.write_html("out.html", config={"displayModeBar": False},
               post_script="document.body.style.margin='0px';document.body.style.overflow='hidden';")
